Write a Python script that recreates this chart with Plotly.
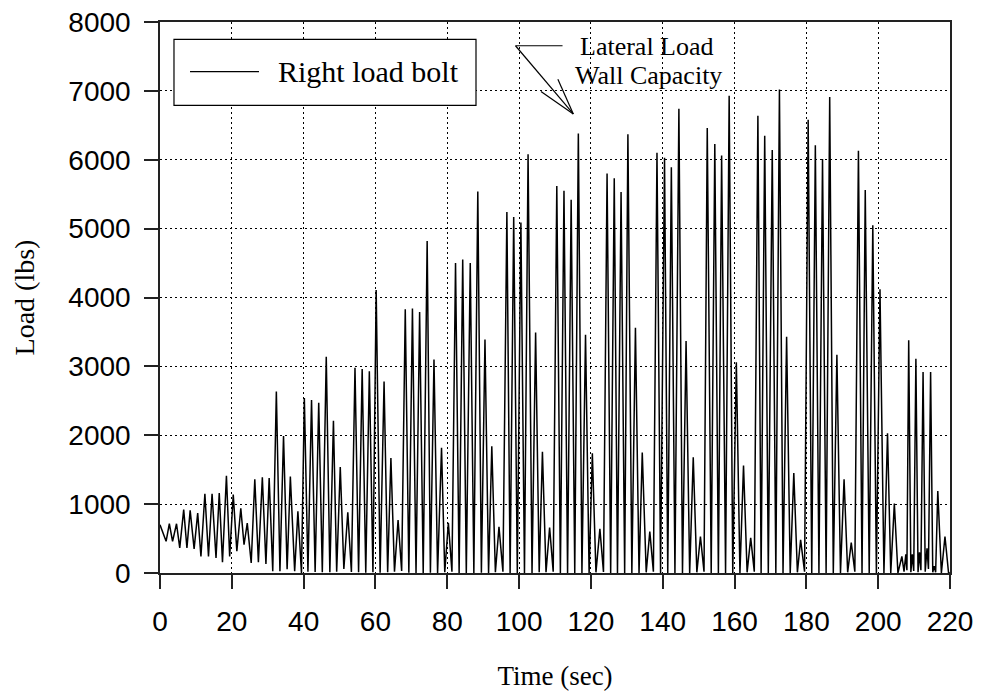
import plotly.graph_objects as go

# Right load bolt record: turning points of the load trace (time in s, load in lbs)
peak_time = [
    0.0, 2.6, 4.6, 6.6, 8.4, 10.5, 12.5, 14.5, 16.5, 18.5, 20.4, 22.5, 24.3,
    26.4, 28.5, 30.4, 32.4, 34.4, 36.3, 38.4,
    40.2, 42.2, 44.2, 46.3, 48.3, 50.2, 52.3, 54.3, 56.3, 58.3, 60.2, 62.4,
    64.3, 66.3, 68.3, 70.3, 72.3, 74.4, 76.3, 78.4, 80.3, 82.3, 84.3, 86.4,
    88.5, 90.5, 92.4, 94.4, 96.6, 98.5, 100.5, 102.5, 104.6, 106.5, 108.5,
    110.5, 112.5, 114.5, 116.5, 118.5, 120.4, 122.5, 124.5, 126.5, 128.4,
    130.3, 132.4, 134.3, 136.4, 138.4, 140.5, 142.4, 144.5, 146.5, 148.5,
    150.5, 152.4, 154.5, 156.4, 158.5, 160.5, 162.5, 164.5, 166.5, 168.4,
    170.5, 172.5, 174.5, 176.5, 178.4, 180.5, 182.5, 184.5, 186.5, 188.5,
    190.5, 192.5, 194.5, 196.4, 198.5, 200.5, 202.6, 204.5, 206.6, 208.5,
    210.5, 212.5, 214.6, 216.6, 218.6,
]
peak_load = [
    700, 715, 715, 920, 910, 870, 1150, 1150, 1160, 1410, 1140, 940, 725,
    1360, 1390, 1380, 2635, 1990, 1400, 895,
    2540, 2510, 2470, 3140, 2210, 1540, 880, 2980, 2960, 2930, 4110, 2780,
    1670, 770, 3830, 3840, 3790, 4820, 3100, 1820, 730, 4500, 4550, 4500,
    5540, 3390, 1840, 670, 5240, 5170, 5090, 6080, 3490, 1760, 660,
    5620, 5550, 5420, 6380, 3460, 1740, 640, 5800, 5730, 5530,
    6370, 3560, 1750, 600, 6100, 6030, 5890, 6740, 3370, 1680,
    530, 6460, 6230, 6060, 6930, 3060, 1560, 510, 6640, 6350,
    6140, 7020, 3430, 1450, 480, 6580, 6210, 6010, 6910, 3170,
    1360, 440, 6130, 5560, 5050, 4120, 2030, 1010, 240, 3380,
    3110, 2920, 2920, 1190, 530,
]

valley_time = [
    1.7, 3.5, 5.5, 7.5, 9.5, 11.4, 13.5, 15.6, 17.4, 19.4, 21.4, 23.4, 25.4,
    27.4, 29.5, 31.4, 33.4, 35.4, 37.5, 39.4,
    41.2, 43.2, 45.2, 47.3, 49.2, 51.2, 53.3, 55.3, 57.3, 59.3, 61.3, 63.4,
    65.3, 67.3, 69.3, 71.3, 73.3, 75.3, 77.3, 79.3, 81.3, 83.3, 85.3, 87.4,
    89.5, 91.5, 93.4, 95.5, 97.5, 99.5, 101.5, 103.6, 105.6, 107.5, 109.5,
    111.5, 113.5, 115.5, 117.5, 119.5, 121.4, 123.5, 125.5, 127.4, 129.4,
    131.4, 133.4, 135.4, 137.4, 139.4, 141.4, 143.4, 145.5, 147.5, 149.5,
    151.5, 153.5, 155.5, 157.5, 159.5, 161.5, 163.5, 165.5, 167.4, 169.4,
    171.5, 173.5, 175.5, 177.5, 179.5, 181.5, 183.5, 185.5, 187.5, 189.5,
    191.5, 193.5, 195.5, 197.5, 199.5, 201.6, 203.5, 205.5,
    207.2, 207.7, 208.0, 209.1, 209.5, 209.9, 211.1, 211.5, 211.9,
    213.1, 213.6, 214.0, 215.2, 215.6, 216.0, 217.6, 219.6, 220.0,
]
valley_load = [
    460, 460, 365, 365, 350, 240, 240, 220, 155, 240, 315, 410, 145,
    155, 130, 25, 25, 55, 25, 0,
    20, 15, 10, 10, 20, 60, 15, 10, 5, 10, 5, 10,
    20, 30, 5, 0, 0, 5, 0, 10, 20, 0, 0, 0,
    5, 0, 10, 20, 0, 0, 0, 0, 10, 10, 20,
    0, 0, 0, 0, 0, 10, 15, 0, 0, 0,
    0, 0, 10, 20, 0, 0, 0, 0, 0, 10,
    20, 0, 0, 0, 0, 0, 10, 20, 0, 0,
    0, 0, 0, 10, 20, 0, 0, 0, 0, 0,
    10, 20, 0, 0, 0, 0, 0, 0,
    20, 270, 40, 10, 270, 30, 10, 300, 40,
    20, 360, 60, 10, 100, 10, 0, 0, 0,
]

# merge peaks and valleys into one time-ordered trace
points = sorted(zip(peak_time + valley_time, peak_load + valley_load))
time_s = [p[0] for p in points]
load_lbs = [p[1] for p in points]

x_ticks = list(range(0, 221, 20))
y_ticks = list(range(0, 8001, 1000))

SERIF = "Liberation Serif"
SANS = "Liberation Sans"

fig = go.Figure()
fig.add_trace(go.Scatter(
    x=time_s, y=load_lbs, mode="lines", name="Right load bolt",
    line=dict(color="black", width=1.5), showlegend=False,
))

axis_common = dict(
    showgrid=True, gridcolor="black", gridwidth=1, griddash="2px,3px",
    showline=True, linecolor="#222", linewidth=1.5, mirror=True,
    ticks="outside", ticklen=14, tickwidth=1.5, tickcolor="#222",
    tickfont=dict(family=SANS, size=28, color="black"),
    zeroline=False,
)
fig.update_xaxes(
    range=[0, 220], tickvals=x_ticks, ticktext=[str(v) for v in x_ticks],
    ticklabelstandoff=9,
    title=dict(text="Time (sec)", font=dict(family=SERIF, size=27, color="black"),
               standoff=30),
    **axis_common,
)
fig.update_yaxes(
    range=[0, 8000], tickvals=y_ticks, ticktext=[str(v) for v in y_ticks],
    ticklabelstandoff=8,
    title=dict(text="Load (lbs)", font=dict(family=SERIF, size=28, color="black"),
               standoff=26),
    **axis_common,
)

# legend box drawn in paper space
legend_box = dict(x0=0.0177, x1=0.400, y0=0.8488, y1=0.9686)
legend_line = dict(x0=0.0380, x1=0.1253, y=0.9098)
shapes = [
    dict(type="rect", xref="paper", yref="paper", layer="above",
         fillcolor="white", line=dict(color="black", width=1.2), **legend_box),
    dict(type="line", xref="paper", yref="paper", layer="above",
         x0=legend_line["x0"], x1=legend_line["x1"],
         y0=legend_line["y"], y1=legend_line["y"],
         line=dict(color="black", width=1.3)),
]

# callout pointing at the wall capacity level
callout_tail = (99.0, 7655)
callout_leader_end = (112.1, 7655)
callout_tip = (115.1, 6665)
callout_barbs = [(110.8, 7170), (106.1, 6990)]
callout_line = dict(color="black", width=1.2)
shapes.append(dict(type="line", xref="x", yref="y",
                   x0=callout_tail[0], y0=callout_tail[1],
                   x1=callout_leader_end[0], y1=callout_leader_end[1], line=callout_line))
shapes.append(dict(type="line", xref="x", yref="y",
                   x0=callout_tail[0], y0=callout_tail[1],
                   x1=callout_tip[0], y1=callout_tip[1], line=callout_line))
for bx, by in callout_barbs:
    shapes.append(dict(type="line", xref="x", yref="y",
                       x0=callout_tip[0], y0=callout_tip[1], x1=bx, y1=by,
                       line=callout_line))

annotations = [
    dict(text="Right load bolt", xref="paper", yref="paper",
         x=0.1468, y=legend_line["y"], xanchor="left", yanchor="middle",
         showarrow=False, font=dict(family=SERIF, size=30, color="black")),
    dict(text="Lateral Load", xref="x", yref="y", x=135.7, y=7640,
         xanchor="center", yanchor="middle", showarrow=False,
         font=dict(family=SERIF, size=26, color="black")),
    dict(text="Wall Capacity", xref="x", yref="y", x=136.1, y=7230,
         xanchor="center", yanchor="middle", showarrow=False,
         font=dict(family=SERIF, size=26, color="black")),
]

fig.update_layout(
    width=982, height=692,
    margin=dict(l=160, r=32, t=22, b=119, autoexpand=False),
    paper_bgcolor="white", plot_bgcolor="white",
    shapes=shapes, annotations=annotations,
    showlegend=False,
)

fig.write_html("out.html")
